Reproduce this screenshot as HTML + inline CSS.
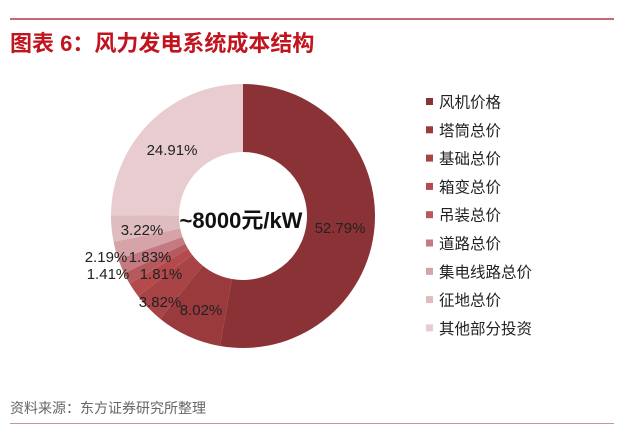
<!DOCTYPE html>
<html><head><meta charset="utf-8"><style>
body{margin:0;width:627px;height:437px;background:#fff;overflow:hidden;font-family:"Liberation Sans","Noto Sans CJK SC",sans-serif;}
svg{position:absolute;left:0;top:0}
</style></head><body>
<svg id="s" width="627" height="437" xmlns="http://www.w3.org/2000/svg">
<rect x="10" y="18" width="604" height="2" fill="#c46a70"/>
<text x="10" y="51" font-size="22" font-weight="bold" fill="#c0141e" font-family="Liberation Sans,Noto Sans CJK SC,sans-serif">图表 6：风力发电系统成本结构</text>
<g id="pie"></g>
<g font-size="15" fill="#222" font-family="Liberation Sans,sans-serif" text-anchor="middle">
<text x="340" y="233">52.79%</text>
<text x="172" y="155">24.91%</text>
<text x="142" y="235">3.22%</text>
<text x="106" y="262">2.19%</text>
<text x="150" y="262">1.83%</text>
<text x="108" y="279">1.41%</text>
<text x="161" y="279">1.81%</text>
<text x="160" y="307">3.82%</text>
<text x="201" y="315">8.02%</text>
</g>
<text x="241" y="228" font-size="22" font-weight="bold" text-anchor="middle" fill="#111" font-family="Liberation Sans,Noto Sans CJK SC,sans-serif">~8000元/kW</text>
<g id="leg" font-size="15.5" fill="#222" font-family="Liberation Sans,Noto Sans CJK SC,sans-serif"></g>
<text x="10" y="413" font-size="14" fill="#666" font-family="Liberation Sans,Noto Sans CJK SC,sans-serif">资料来源：东方证券研究所整理</text>
<rect x="10" y="423" width="604" height="1" fill="#c9959a"/>
</svg>
<script>
var d=[[52.79,"#8b3236","风机价格"],[8.02,"#9a3a3c","塔筒总价"],[3.82,"#a84446","基础总价"],[1.81,"#b54a4c","箱变总价"],[1.41,"#b55a5c","吊装总价"],[1.83,"#c47a80","道路总价"],[2.19,"#d6a3a8","集电线路总价"],[3.22,"#dfbcbf","征地总价"],[24.91,"#e8cccf","其他部分投资"]];
var cx=243,cy=216,R=132,r=64,a=0,p="",l="";
function pt(rad,ang){return [cx+rad*Math.sin(ang),cy-rad*Math.cos(ang)];}
d.forEach(function(s,i){var b=a+s[0]/100*2*Math.PI,lg=(b-a)>Math.PI?1:0;
var p1=pt(R,a),p2=pt(R,b),p3=pt(r,b),p4=pt(r,a);
p+='<path d="M'+p1+' A'+R+','+R+' 0 '+lg+' 1 '+p2+' L'+p3+' A'+r+','+r+' 0 '+lg+' 0 '+p4+' Z" fill="'+s[1]+'"/>';
a=b;var y=102+i*28.3;
l+='<rect x="426" y="'+(y-4)+'" width="7" height="7" fill="'+s[1]+'"/><text x="439" y="'+(y+5.5)+'">'+s[2]+'</text>';});
document.getElementById("pie").innerHTML=p;document.getElementById("leg").innerHTML=l;
</script>
</body></html>
